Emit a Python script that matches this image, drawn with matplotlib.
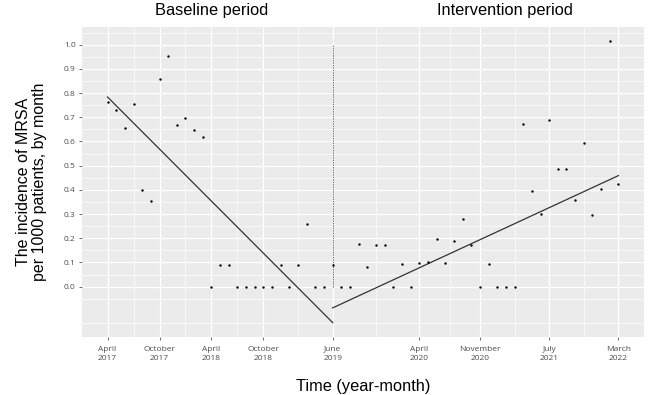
import numpy as np
import pandas as pd
import matplotlib
matplotlib.use("Agg")
import matplotlib.pyplot as plt
import matplotlib.transforms as mtransforms

# monthly MRSA incidence per 1000 patients, April 2017 .. March 2022
months = pd.date_range("2017-04-01", periods=60, freq="MS")
baseline = [0.762, 0.729, 0.657, 0.753, 0.401, 0.353, 0.860, 0.955, 0.669, 0.697,
            0.649, 0.620, 0.000, 0.091, 0.090, 0.000, 0.000, 0.000, 0.000, 0.000,
            0.088, 0.000, 0.090, 0.259, 0.000, 0.000]
intervention = [0.090, 0.000, 0.000, 0.175, 0.081, 0.171, 0.173, 0.000, 0.094, 0.000,
                0.099, 0.102, 0.197, 0.096, 0.189, 0.278, 0.171, 0.000, 0.094, 0.000,
                0.000, 0.000, 0.673, 0.395, 0.300, 0.687, 0.486, 0.486, 0.360, 0.592,
                0.295, 0.404, 1.014, 0.423]
incidence = np.array(baseline + intervention)

# fitted segmented-regression trend values (start, end)
baseline_trend = [0.784, -0.149]
intervention_trend = [-0.088, 0.459]

tick_months = ["2017-04", "2017-10", "2018-04", "2018-10", "2019-06",
               "2020-04", "2020-11", "2021-07", "2022-03"]
tick_labels = ["April\n2017", "October\n2017", "April\n2018", "October\n2018", "June\n2019",
               "April\n2020", "November\n2020", "July\n2021", "March\n2022"]
y_ticks = [0.0, 0.1, 0.2, 0.3, 0.4, 0.5, 0.6, 0.7, 0.8, 0.9, 1.0]

t = np.arange(len(months))
n_base = len(baseline)
t_start = n_base  # June 2019
tick_pos = [months.get_loc(pd.Timestamp(m)) for m in tick_months]
b_x = [t[0], t[t_start]]
i_x = [t[t_start], t[-1]]

fig = plt.figure(figsize=(6.49, 3.95), dpi=100)
ax = fig.add_axes([82 / 649, 1 - 336.7 / 395, (644 - 82) / 649, (336.7 - 27.3) / 395])
ax.set_facecolor("#EBEBEB")
for s in ax.spines.values():
    s.set_visible(False)

# ggplot-like limits (5% expansion)
ymin = min(incidence.min(), min(baseline_trend), min(intervention_trend))
ymax = max(incidence.max(), max(baseline_trend), max(intervention_trend))
yr = ymax - ymin
ax.set_ylim(ymin - 0.05 * yr, ymax + 0.05 * yr)
ax.set_xlim(t[0] - 0.05 * (t[-1] - t[0]), t[-1] + 0.05 * (t[-1] - t[0]))

ax.set_xticks(tick_pos)
ax.set_xticklabels(tick_labels, family="Open Sans", fontsize=6, color="#4D4D4D", linespacing=1.45)
ax.set_yticks(y_ticks)
ax.set_yticklabels(["%.1f" % v for v in y_ticks], family="Open Sans", fontsize=6, color="#4D4D4D")
minor_x = [(a + b) / 2 for a, b in zip(tick_pos[:-1], tick_pos[1:])]
ax.set_xticks(minor_x, minor=True)
ax.set_yticks(np.arange(-0.15, 1.06, 0.1), minor=True)
ax.tick_params(which="major", length=2.5, width=0.5, color="#333333", pad=2)
ax.tick_params(axis="x", which="major", pad=4)
ax.tick_params(which="minor", length=0)
ax.grid(True, which="major", color="white", lw=0.9, zorder=0)
ax.grid(True, which="minor", color="white", lw=0.45, zorder=0)
ax.set_axisbelow(True)

ax.scatter(t, incidence, s=3, color="black", zorder=3, lw=0)
ax.plot(b_x, baseline_trend, color="#333333", lw=0.9, zorder=2)
ax.plot(i_x, intervention_trend, color="#333333", lw=0.9, zorder=2)
ax.vlines(t[t_start], 0, 1.0, colors="#333333", linestyles=(0, (2, 1.5)), lw=0.5, zorder=2)

trans = mtransforms.blended_transform_factory(ax.transData, fig.transFigure)
fig.text(12, 1 - 10 / 395, "Baseline period", transform=trans, ha="center", va="center",
         family="Liberation Sans", fontsize=11.8)
fig.text(45.9, 1 - 10 / 395, "Intervention period", transform=trans, ha="center", va="center",
         family="Liberation Sans", fontsize=11.8)

ax.set_xlabel("Time (year-month)", family="Liberation Sans", fontsize=11.8, labelpad=12)
ax.set_ylabel("The incidence of MRSA\nper 1000 patients, by month", family="Liberation Sans",
              fontsize=11.5, labelpad=12, linespacing=1.1)

fig.savefig("out.png", dpi=100)
